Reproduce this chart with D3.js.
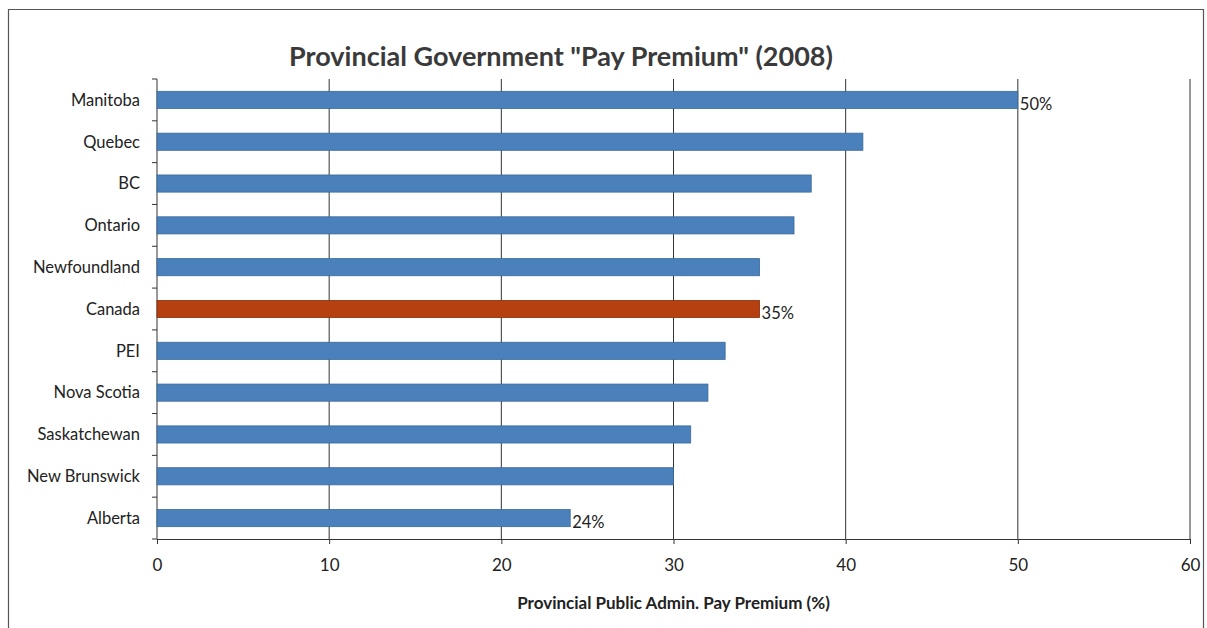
<!DOCTYPE html>
<html>
<head>
<meta charset="utf-8">
<script src="https://cdn.jsdelivr.net/npm/d3@7"></script>
<style>
  body { margin: 0; background: #fff; }
  svg { display: block; font-family: Lato, "Open Sans", sans-serif; }
</style>
</head>
<body>
<svg width="1207" height="628"></svg>
<script>
// ---- data
const provinces = ['Manitoba', 'Quebec', 'BC', 'Ontario', 'Newfoundland', 'Canada',
    'PEI', 'Nova Scotia', 'Saskatchewan', 'New Brunswick', 'Alberta'];
const premium = [50, 41, 38, 37, 35, 35, 33, 32, 31, 30, 24];
const labelled = ['Manitoba', 'Canada', 'Alberta'];
const highlight = 'Canada';
const xTicks = [0, 10, 20, 30, 40, 50, 60];

const data = provinces.map((p, i) => ({ name: p, value: premium[i] }));

const svg = d3.select('svg');
const margens = { left: 157, right: 17, top: 79, bottom: 89 };
const innerWidth = 1207 - margens.left - margens.right;
const innerHeight = 628 - margens.top - margens.bottom;

// frame around the chart
svg.append('path')
    .attr('d', 'M8.5,628 V9.5 H1203.5 V628')
    .attr('fill', 'none').attr('stroke', '#555').attr('stroke-width', 1.2);

svg.append('text')
    .attr('x', 561).attr('y', 66)
    .attr('text-anchor', 'middle')
    .attr('font-size', 27).attr('font-weight', 'bold')
    .attr('fill', '#3a3a3a')
    .text('Provincial Government "Pay Premium" (2008)');

const g = svg.append('g')
    .attr('transform', `translate(${margens.left}, ${margens.top})`);

// ---- scales
const mapX = d3.scaleLinear().domain([0, 60]).range([0, innerWidth]);
const mapY = d3.scaleBand().domain(provinces).range([0, innerHeight])
    .paddingInner(0.59).paddingOuter(0.295);

// ---- gridlines
g.append('g')
    .selectAll('line')
    .data(xTicks.filter(d => d > 0))
    .join('line')
    .attr('x1', d => mapX(d)).attr('x2', d => mapX(d))
    .attr('y1', 0).attr('y2', innerHeight)
    .attr('stroke', '#333').attr('stroke-width', 1);

// ---- x axis
const xAxis = d3.axisBottom(mapX).tickValues(xTicks).tickSize(5).tickPadding(15);
const gx = g.append('g')
    .attr('transform', `translate(0, ${innerHeight})`)
    .call(xAxis);
gx.select('.domain').attr('stroke', '#333');
gx.selectAll('.tick line').attr('stroke', '#333');
gx.selectAll('.tick text')
    .attr('font-size', 17).attr('fill', '#222')
    .attr('font-family', 'Lato, "Open Sans", sans-serif');

// ---- y axis: ticks at band boundaries
g.append('line')
    .attr('x1', 0).attr('x2', 0).attr('y1', 0).attr('y2', innerHeight)
    .attr('stroke', '#333');
const bounds = d3.range(provinces.length + 1).map(i => i * innerHeight / provinces.length);
g.append('g')
    .selectAll('line')
    .data(bounds)
    .join('line')
    .attr('x1', -5).attr('x2', 0)
    .attr('y1', d => d).attr('y2', d => d)
    .attr('stroke', '#333');

g.append('g')
    .selectAll('text')
    .data(provinces)
    .join('text')
    .attr('x', -17)
    .attr('y', d => mapY(d) + mapY.bandwidth() / 2)
    .attr('dy', '0.35em')
    .attr('text-anchor', 'end')
    .attr('font-size', 16.5).attr('fill', '#222')
    .text(d => d);

// ---- bars
g.append('g')
    .selectAll('rect')
    .data(data)
    .join('rect')
    .attr('x', 0)
    .attr('y', d => mapY(d.name))
    .attr('width', d => mapX(d.value))
    .attr('height', mapY.bandwidth())
    .attr('fill', d => d.name === highlight ? '#b6400f' : '#4a80bb')
    .attr('stroke', d => d.name === highlight ? '#8a2f0a' : '#3a6a9a')
    .attr('stroke-width', 0.8);

// ---- data labels
g.append('g')
    .selectAll('text')
    .data(data.filter(d => labelled.includes(d.name)))
    .join('text')
    .attr('x', d => mapX(d.value) + 2)
    .attr('y', d => mapY(d.name) + mapY.bandwidth() / 2 + 4)
    .attr('dy', '0.35em')
    .attr('font-size', 16.5).attr('fill', '#222')
    .text(d => d.value + '%');

// ---- axis title
svg.append('text')
    .attr('x', margens.left + innerWidth / 2).attr('y', 609)
    .attr('text-anchor', 'middle')
    .attr('font-size', 17).attr('font-weight', 'bold')
    .attr('fill', '#222')
    .text('Provincial Public Admin. Pay Premium (%)');
</script>
</body>
</html>
